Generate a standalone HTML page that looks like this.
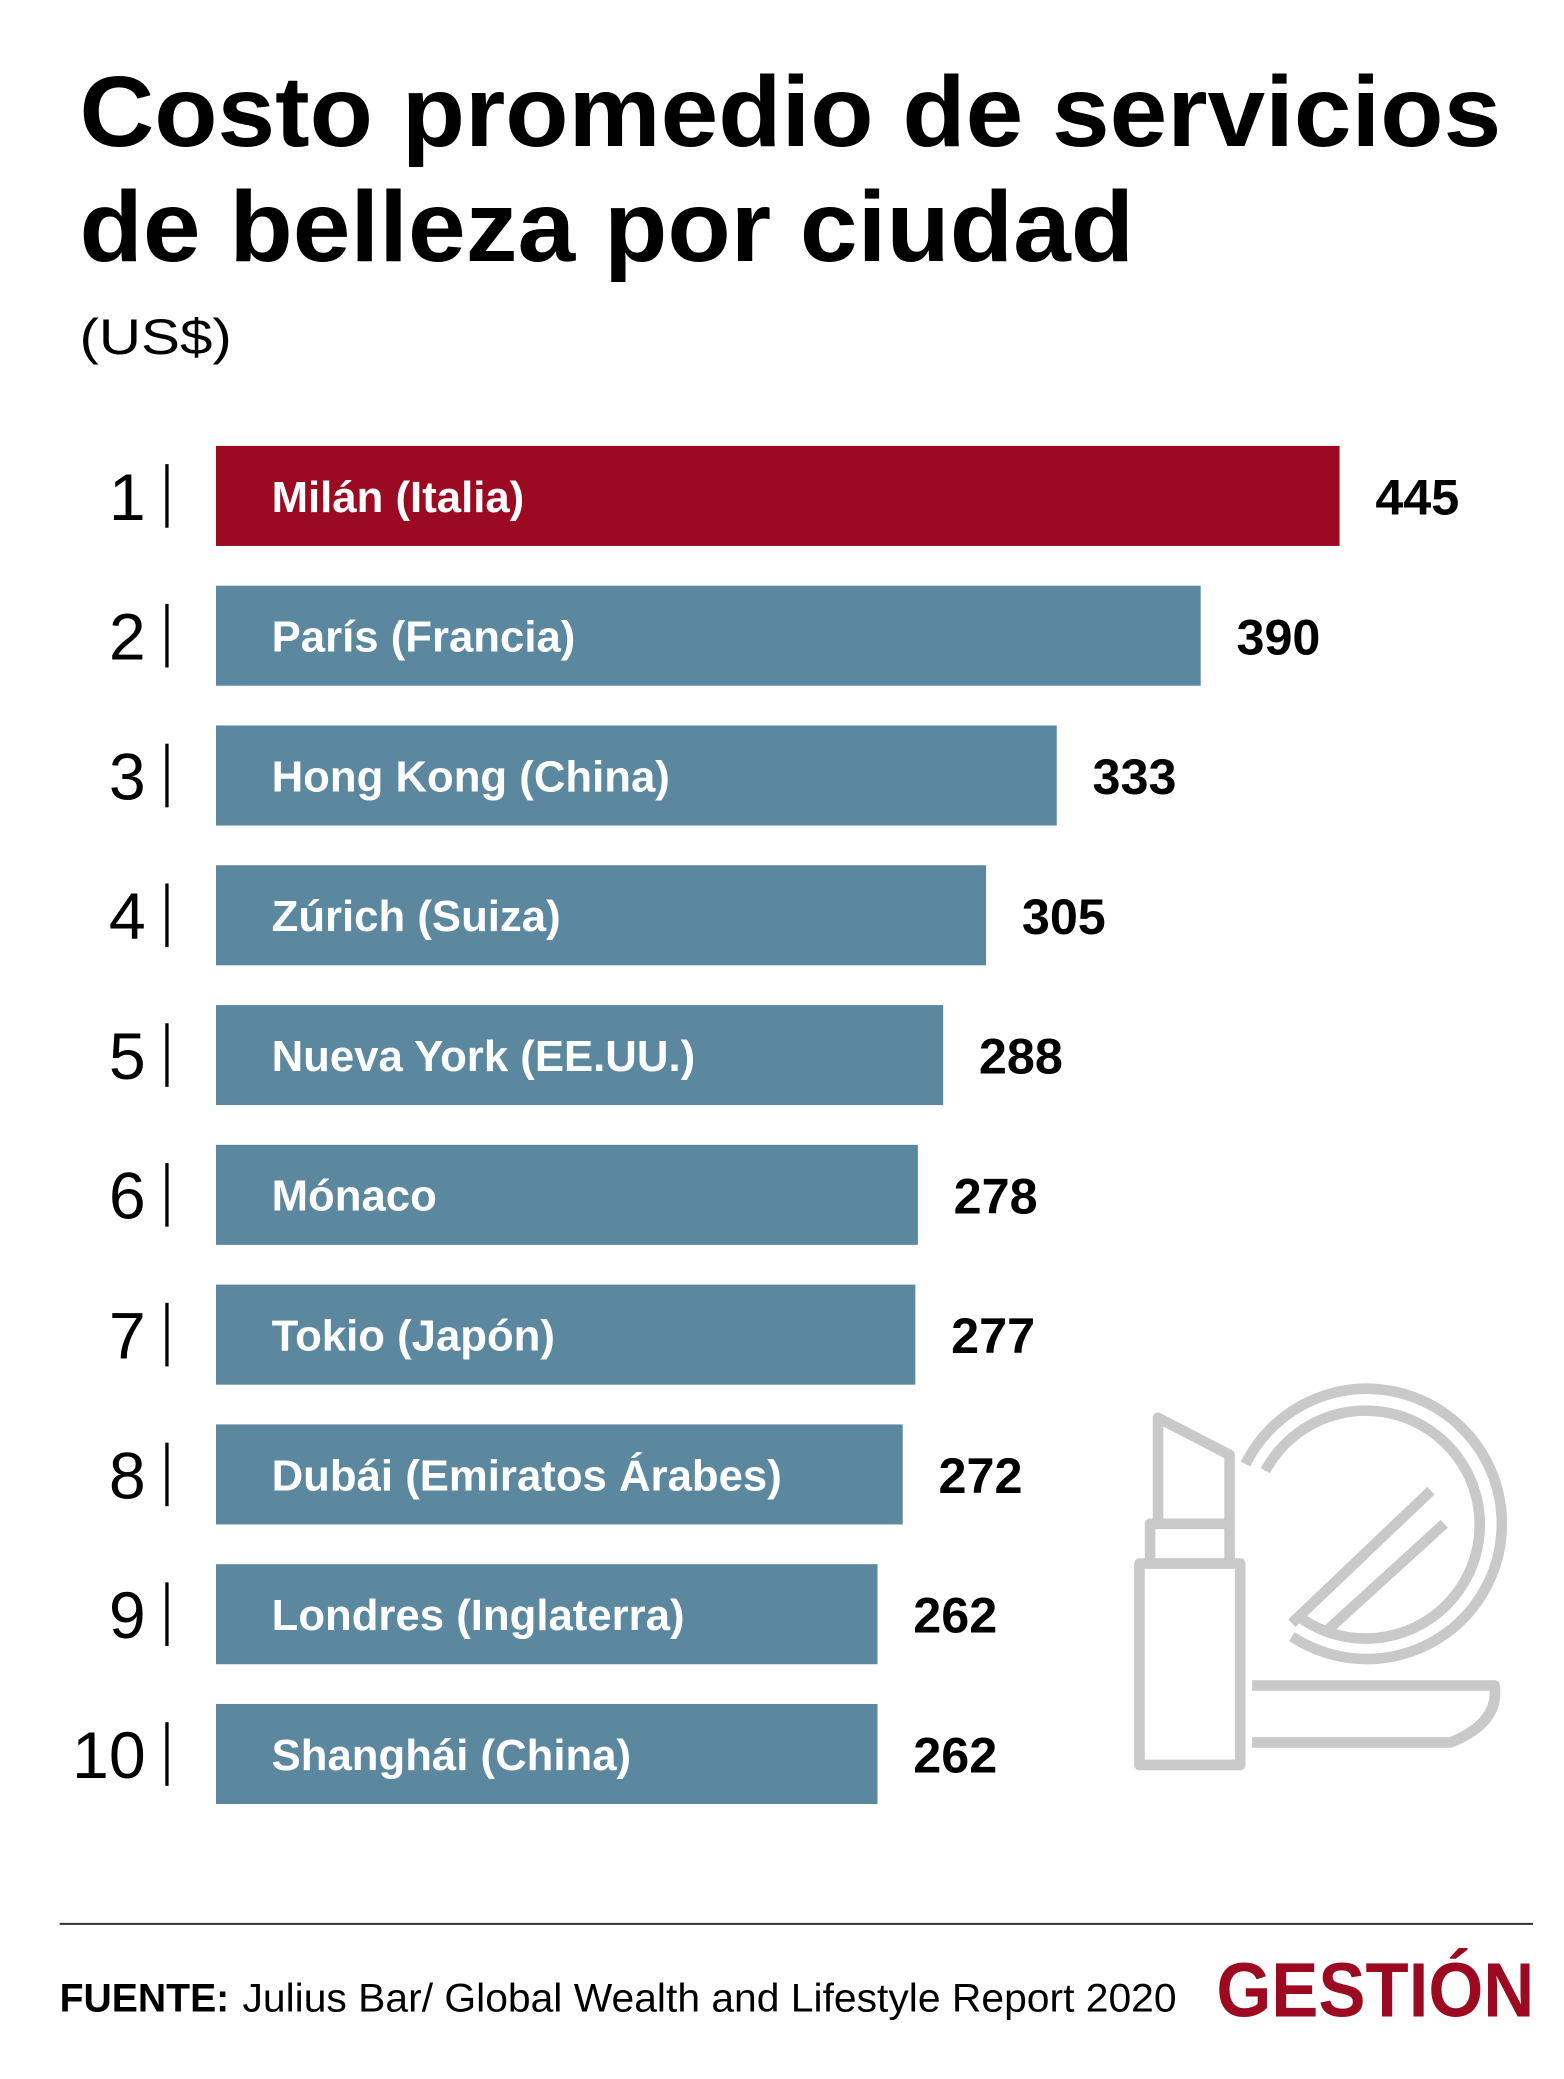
<!DOCTYPE html>
<html><head><meta charset="utf-8">
<style>
html,body{margin:0;padding:0;background:#fff;}
svg{display:block;}
text{font-family:"Liberation Sans",sans-serif;}
</style></head>
<body>
<svg id="chart" width="1564" height="2079" viewBox="0 0 1180.4 1569" xmlns="http://www.w3.org/2000/svg">
<rect width="1180.4" height="1569" fill="#fff"/>
<text x="60" y="110" font-size="76" font-weight="bold" textLength="1073" lengthAdjust="spacingAndGlyphs" fill="#000">Costo promedio de servicios</text>
<text x="60" y="197" font-size="76" font-weight="bold" textLength="796" lengthAdjust="spacingAndGlyphs" fill="#000">de belleza por ciudad</text>
<text x="60" y="267" font-size="38" textLength="115" lengthAdjust="spacingAndGlyphs" fill="#000">(US$)</text>
<g id="bars"></g>
<g fill="none" stroke="#c9c9c9" stroke-width="8" stroke-linejoin="round">
  <rect x="860" y="1180" width="76" height="152"/>
  <rect x="868" y="1150" width="60" height="30"/>
  <path d="M874 1150 V1070 L928 1098 V1150"/>
  <path d="M940 1105 A102 102 0 1 1 975 1235"/>
  <path d="M955 1110 A86 86 0 1 1 980 1220"/>
  <path d="M975 1225 L1080 1125 M1000 1232 L1090 1150"/>
  <path d="M945 1272 H1128 Q1132 1300 1095 1315 H945"/>
</g>
<line x1="45" y1="1452" x2="1157" y2="1452" stroke="#333" stroke-width="1.5"/>
<text x="45" y="1518" font-size="30" font-weight="bold" textLength="128" lengthAdjust="spacingAndGlyphs" fill="#000">FUENTE:</text>
<text x="183" y="1518" font-size="30" textLength="705" lengthAdjust="spacingAndGlyphs" fill="#000">Julius Bar/ Global Wealth and Lifestyle Report 2020</text>
<text x="918" y="1522" font-family="Liberation Serif,serif" font-size="58" font-weight="bold" textLength="240" lengthAdjust="spacingAndGlyphs" fill="#9c0a22">GESTIÓN</text>
</svg>
<script>
const cities = ["Milán (Italia)","París (Francia)","Hong Kong (China)","Zúrich (Suiza)","Nueva York (EE.UU.)","Mónaco","Tokio (Japón)","Dubái (Emiratos Árabes)","Londres (Inglaterra)","Shanghái (China)"];
const values = [445,390,333,305,288,278,277,272,262,262];
const ranks = ["1","2","3","4","5","6","7","8","9","10"];

const NS = "http://www.w3.org/2000/svg";
const g = document.getElementById("bars");
const x0 = 163, k = 848/445, top0 = 336.5, pitch = 105.5, bh = 75.5;
const xScale = v => x0 + v * k;
const yScale = i => top0 + i * pitch;
function mk(tag, attrs, txt){
  const e = document.createElementNS(NS, tag);
  for (const a in attrs) e.setAttribute(a, attrs[a]);
  if (txt !== undefined) e.textContent = txt;
  g.appendChild(e);
  return e;
}
values.forEach((v, i) => {
  const y = yScale(i);
  const cy = y + bh/2;
  const r = mk("rect", {x: x0, y: y, width: xScale(v) - x0, height: bh, fill: i === 0 ? "#9c0a22" : "#5b889f"});
  
  
  const rk = mk("text", {x: 110, y: cy + 18, "font-size": 50, "text-anchor": "end", fill: "#000"}, ranks[i]);
  
  
  const p = mk("line", {x1: 126, y1: cy - 24, x2: 126, y2: cy + 24, stroke: "#000", "stroke-width": 2.5});
  
  
  const lb = mk("text", {x: 205, y: cy + 12, "font-size": 33, "font-weight": "bold", fill: "#fff"}, cities[i]);
  
  
  const vl = mk("text", {x: xScale(v) + 27, y: cy + 14, "font-size": 38, "font-weight": "bold", fill: "#000"}, String(v));
  
  
});
</script>
</body></html>
